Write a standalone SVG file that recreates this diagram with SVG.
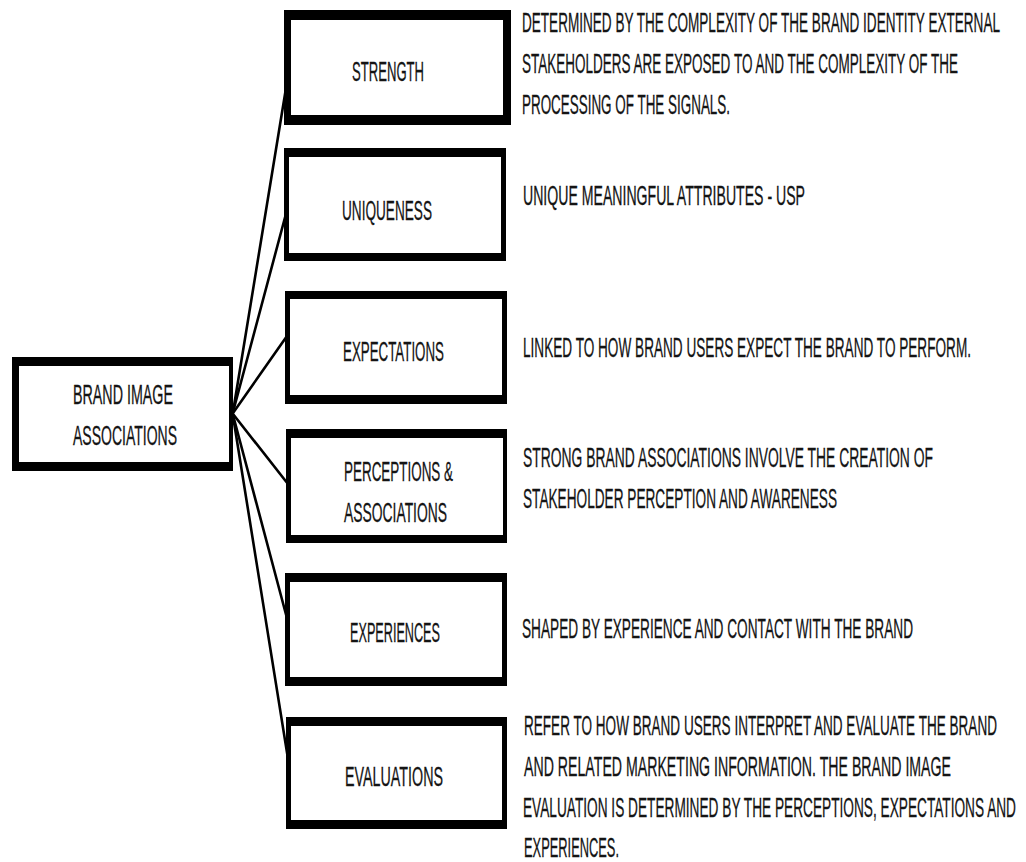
<svg xmlns="http://www.w3.org/2000/svg" width="1026" height="862" viewBox="0 0 1026 862">
<style>
.bg{fill:#ffffff}
.frame{fill:#000000}
.inner{fill:#ffffff}
.conn{stroke:#000000;stroke-width:2.6;fill:none;stroke-linecap:round}
text{font-family:"Liberation Sans",Arial,sans-serif;font-size:28px;fill:#141414;stroke:#141414;stroke-width:0.3}
.c{text-anchor:middle}
</style>
<rect class="bg" x="0" y="0" width="1026" height="862"/>
<g id="connectors">
<line class="conn" x1="233" y1="412" x2="287" y2="82"/>
<line class="conn" x1="233" y1="412" x2="287" y2="210"/>
<line class="conn" x1="233" y1="413" x2="287" y2="336"/>
<line class="conn" x1="233" y1="414" x2="288" y2="484"/>
<line class="conn" x1="233" y1="415" x2="288" y2="622"/>
<line class="conn" x1="233" y1="416" x2="289" y2="765"/>
</g>
<g id="node-brand-image">
<rect class="frame" x="12" y="357" width="221" height="114"/>
<rect class="inner" x="19" y="366" width="210" height="96"/>
<text class="c" transform="translate(123,404) scale(0.5,1)" textLength="200" lengthAdjust="spacingAndGlyphs">BRAND IMAGE</text>
<text class="c" transform="translate(125,445) scale(0.5,1)" textLength="208" lengthAdjust="spacingAndGlyphs">ASSOCIATIONS</text>
</g>
<g id="node-strength">
<rect class="frame" x="284" y="10" width="227" height="115"/>
<rect class="inner" x="291" y="20" width="212" height="95"/>
<text class="c" transform="translate(388,81) scale(0.5,1)" textLength="144" lengthAdjust="spacingAndGlyphs">STRENGTH</text>
<text transform="translate(522,32) scale(0.5,1)" textLength="956" lengthAdjust="spacingAndGlyphs">DETERMINED BY THE COMPLEXITY OF THE BRAND IDENTITY EXTERNAL</text>
<text transform="translate(522,73) scale(0.5,1)" textLength="872" lengthAdjust="spacingAndGlyphs">STAKEHOLDERS ARE EXPOSED TO AND THE COMPLEXITY OF THE</text>
<text transform="translate(522,114) scale(0.5,1)" textLength="416" lengthAdjust="spacingAndGlyphs">PROCESSING OF THE SIGNALS.</text>
</g>
<g id="node-uniqueness">
<rect class="frame" x="284" y="148" width="222" height="113"/>
<rect class="inner" x="289" y="157" width="212" height="96"/>
<text class="c" transform="translate(387,220) scale(0.5,1)" textLength="180" lengthAdjust="spacingAndGlyphs">UNIQUENESS</text>
<text transform="translate(523,205) scale(0.5,1)" textLength="564" lengthAdjust="spacingAndGlyphs">UNIQUE MEANINGFUL ATTRIBUTES - USP</text>
</g>
<g id="node-expectations">
<rect class="frame" x="285" y="291" width="222" height="113"/>
<rect class="inner" x="290" y="299" width="212" height="96"/>
<text class="c" transform="translate(393.5,361) scale(0.5,1)" textLength="202" lengthAdjust="spacingAndGlyphs">EXPECTATIONS</text>
<text transform="translate(523,357) scale(0.5,1)" textLength="896" lengthAdjust="spacingAndGlyphs">LINKED TO HOW BRAND USERS EXPECT THE BRAND TO PERFORM.</text>
</g>
<g id="node-perceptions">
<rect class="frame" x="286" y="429" width="221" height="114"/>
<rect class="inner" x="291" y="438" width="212" height="97"/>
<text class="c" transform="translate(398.5,481) scale(0.5,1)" textLength="218" lengthAdjust="spacingAndGlyphs">PERCEPTIONS &amp;</text>
<text class="c" transform="translate(395.5,522) scale(0.5,1)" textLength="206" lengthAdjust="spacingAndGlyphs">ASSOCIATIONS</text>
<text transform="translate(523,467) scale(0.5,1)" textLength="820" lengthAdjust="spacingAndGlyphs">STRONG BRAND ASSOCIATIONS INVOLVE THE CREATION OF</text>
<text transform="translate(523,508) scale(0.5,1)" textLength="628" lengthAdjust="spacingAndGlyphs">STAKEHOLDER PERCEPTION AND AWARENESS</text>
</g>
<g id="node-experiences">
<rect class="frame" x="285" y="573" width="222" height="113"/>
<rect class="inner" x="290" y="582" width="212" height="95"/>
<text class="c" transform="translate(395,642) scale(0.5,1)" textLength="180" lengthAdjust="spacingAndGlyphs">EXPERIENCES</text>
<text transform="translate(522,638) scale(0.5,1)" textLength="782" lengthAdjust="spacingAndGlyphs">SHAPED BY EXPERIENCE AND CONTACT WITH THE BRAND</text>
</g>
<g id="node-evaluations">
<rect class="frame" x="286" y="717" width="221" height="112"/>
<rect class="inner" x="291" y="726" width="211" height="94"/>
<text class="c" transform="translate(394,786) scale(0.5,1)" textLength="196" lengthAdjust="spacingAndGlyphs">EVALUATIONS</text>
<text transform="translate(524,735) scale(0.5,1)" textLength="946" lengthAdjust="spacingAndGlyphs">REFER TO HOW BRAND USERS INTERPRET AND EVALUATE THE BRAND</text>
<text transform="translate(524,776) scale(0.5,1)" textLength="854" lengthAdjust="spacingAndGlyphs">AND RELATED MARKETING INFORMATION. THE BRAND IMAGE</text>
<text transform="translate(523,817) scale(0.5,1)" textLength="986" lengthAdjust="spacingAndGlyphs">EVALUATION IS DETERMINED BY THE PERCEPTIONS, EXPECTATIONS AND</text>
<text transform="translate(524,857) scale(0.5,1)" textLength="190" lengthAdjust="spacingAndGlyphs">EXPERIENCES.</text>
</g>
</svg>
